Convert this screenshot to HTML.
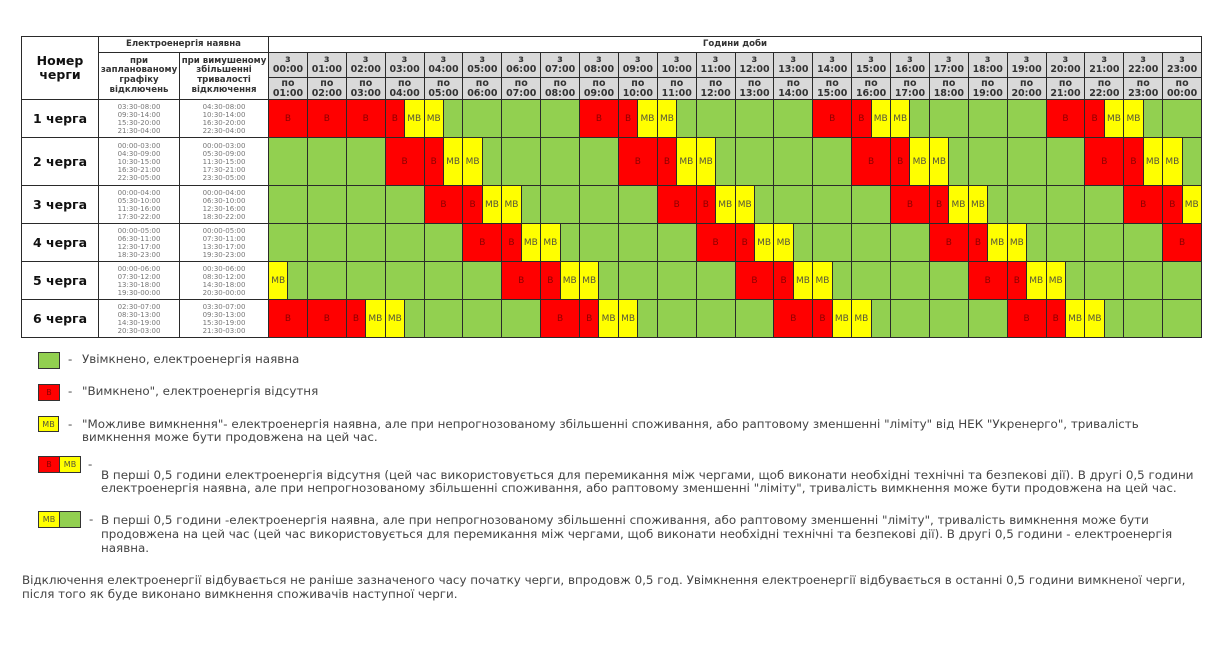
<!DOCTYPE html>
<html><head><meta charset="utf-8">
<style>
*{margin:0;padding:0;box-sizing:border-box}
body{width:1232px;height:668px;background:#fff;position:relative;overflow:hidden;font-family:"DejaVu Sans","Liberation Sans",sans-serif;color:#222}
#g{position:absolute;left:21px;top:36px;width:1181px;height:302px;background:#2a2a2a}
.c{position:absolute;background:#fff;display:flex;align-items:center;justify-content:center;text-align:center}
.r{position:absolute;left:247px;width:934px}
.s{--n:2;position:absolute;top:0;bottom:0;left:calc(var(--a)*19.4375px + 1px);width:calc(var(--n)*19.4375px - 1px);display:flex;align-items:center;justify-content:center;text-align:center;font-size:9px;white-space:nowrap}
.G{background:#92d050}
.B{background:#ff0000;color:#8b0000}
.M{background:#ffff00;color:#55553a}
.h{background:#d9d9d9;font-weight:bold;font-size:9.5px;line-height:10px;color:#333}
.lb{font-weight:bold;font-size:12.5px;color:#111}
.t{font-size:7px;line-height:8px;color:#777}
.hd{font-weight:bold;font-size:8.6px;line-height:9.6px;color:#333}
.lg{position:absolute;font-size:11.9px;line-height:13px;color:#444;white-space:nowrap}
.bx{position:absolute;border:1px solid #333;display:flex;align-items:center;justify-content:center;font-size:8px}
</style></head><body>
<div id="g">
<div class="c lb" style="left:1px;top:1px;width:76px;height:62px;line-height:14px;font-size:12.5px">Номер<br>черги</div>
<div class="c hd" style="left:78px;top:1px;width:169px;height:15px">Електроенергія наявна</div>
<div class="c hd" style="left:248px;top:1px;width:932px;height:15px">Години доби</div>
<div class="c hd" style="left:78px;top:17px;width:80px;height:46px">при<br>запланованому<br>графіку<br>відключень</div>
<div class="c hd" style="left:159px;top:17px;width:88px;height:46px">при вимушеному<br>збільшенні<br>тривалості<br>відключення</div>

<div class="r" style="top:17px;height:24px">
<div class="s h" style="--a:0">з<br>00:00</div><div class="s h" style="--a:2">з<br>01:00</div><div class="s h" style="--a:4">з<br>02:00</div><div class="s h" style="--a:6">з<br>03:00</div><div class="s h" style="--a:8">з<br>04:00</div><div class="s h" style="--a:10">з<br>05:00</div><div class="s h" style="--a:12">з<br>06:00</div><div class="s h" style="--a:14">з<br>07:00</div><div class="s h" style="--a:16">з<br>08:00</div><div class="s h" style="--a:18">з<br>09:00</div><div class="s h" style="--a:20">з<br>10:00</div><div class="s h" style="--a:22">з<br>11:00</div><div class="s h" style="--a:24">з<br>12:00</div><div class="s h" style="--a:26">з<br>13:00</div><div class="s h" style="--a:28">з<br>14:00</div><div class="s h" style="--a:30">з<br>15:00</div><div class="s h" style="--a:32">з<br>16:00</div><div class="s h" style="--a:34">з<br>17:00</div><div class="s h" style="--a:36">з<br>18:00</div><div class="s h" style="--a:38">з<br>19:00</div><div class="s h" style="--a:40">з<br>20:00</div><div class="s h" style="--a:42">з<br>21:00</div><div class="s h" style="--a:44">з<br>22:00</div><div class="s h" style="--a:46">з<br>23:00</div>
</div>
<div class="r" style="top:42px;height:21px">
<div class="s h" style="--a:0">по<br>01:00</div><div class="s h" style="--a:2">по<br>02:00</div><div class="s h" style="--a:4">по<br>03:00</div><div class="s h" style="--a:6">по<br>04:00</div><div class="s h" style="--a:8">по<br>05:00</div><div class="s h" style="--a:10">по<br>06:00</div><div class="s h" style="--a:12">по<br>07:00</div><div class="s h" style="--a:14">по<br>08:00</div><div class="s h" style="--a:16">по<br>09:00</div><div class="s h" style="--a:18">по<br>10:00</div><div class="s h" style="--a:20">по<br>11:00</div><div class="s h" style="--a:22">по<br>12:00</div><div class="s h" style="--a:24">по<br>13:00</div><div class="s h" style="--a:26">по<br>14:00</div><div class="s h" style="--a:28">по<br>15:00</div><div class="s h" style="--a:30">по<br>16:00</div><div class="s h" style="--a:32">по<br>17:00</div><div class="s h" style="--a:34">по<br>18:00</div><div class="s h" style="--a:36">по<br>19:00</div><div class="s h" style="--a:38">по<br>20:00</div><div class="s h" style="--a:40">по<br>21:00</div><div class="s h" style="--a:42">по<br>22:00</div><div class="s h" style="--a:44">по<br>23:00</div><div class="s h" style="--a:46">по<br>00:00</div>
</div>

<!-- Row 1 -->
<div class="c lb" style="left:1px;top:64px;width:76px;height:37px">1 черга</div>
<div class="c t" style="left:78px;top:64px;width:80px;height:37px">03:30-08:00<br>09:30-14:00<br>15:30-20:00<br>21:30-04:00</div>
<div class="c t" style="left:159px;top:64px;width:88px;height:37px">04:30-08:00<br>10:30-14:00<br>16:30-20:00<br>22:30-04:00</div>
<div class="r" style="top:64px;height:37px">
<div class="s B" style="--a:0">В</div><div class="s B" style="--a:2">В</div><div class="s B" style="--a:4">В</div><div class="s B" style="--a:6;--n:1">В</div><div class="s M" style="--a:7;--n:1">МВ</div><div class="s M" style="--a:8;--n:1">МВ</div><div class="s G" style="--a:9;--n:1"></div><div class="s G" style="--a:10"></div><div class="s G" style="--a:12"></div><div class="s G" style="--a:14"></div><div class="s B" style="--a:16">В</div><div class="s B" style="--a:18;--n:1">В</div><div class="s M" style="--a:19;--n:1">МВ</div><div class="s M" style="--a:20;--n:1">МВ</div><div class="s G" style="--a:21;--n:1"></div><div class="s G" style="--a:22"></div><div class="s G" style="--a:24"></div><div class="s G" style="--a:26"></div><div class="s B" style="--a:28">В</div><div class="s B" style="--a:30;--n:1">В</div><div class="s M" style="--a:31;--n:1">МВ</div><div class="s M" style="--a:32;--n:1">МВ</div><div class="s G" style="--a:33;--n:1"></div><div class="s G" style="--a:34"></div><div class="s G" style="--a:36"></div><div class="s G" style="--a:38"></div><div class="s B" style="--a:40">В</div><div class="s B" style="--a:42;--n:1">В</div><div class="s M" style="--a:43;--n:1">МВ</div><div class="s M" style="--a:44;--n:1">МВ</div><div class="s G" style="--a:45;--n:1"></div><div class="s G" style="--a:46"></div>
</div>

<!-- Row 2 -->
<div class="c lb" style="left:1px;top:102px;width:76px;height:47px">2 черга</div>
<div class="c t" style="left:78px;top:102px;width:80px;height:47px">00:00-03:00<br>04:30-09:00<br>10:30-15:00<br>16:30-21:00<br>22:30-05:00</div>
<div class="c t" style="left:159px;top:102px;width:88px;height:47px">00:00-03:00<br>05:30-09:00<br>11:30-15:00<br>17:30-21:00<br>23:30-05:00</div>
<div class="r" style="top:102px;height:47px">
<div class="s G" style="--a:0"></div><div class="s G" style="--a:2"></div><div class="s G" style="--a:4"></div><div class="s B" style="--a:6">В</div><div class="s B" style="--a:8;--n:1">В</div><div class="s M" style="--a:9;--n:1">МВ</div><div class="s M" style="--a:10;--n:1">МВ</div><div class="s G" style="--a:11;--n:1"></div><div class="s G" style="--a:12"></div><div class="s G" style="--a:14"></div><div class="s G" style="--a:16"></div><div class="s B" style="--a:18">В</div><div class="s B" style="--a:20;--n:1">В</div><div class="s M" style="--a:21;--n:1">МВ</div><div class="s M" style="--a:22;--n:1">МВ</div><div class="s G" style="--a:23;--n:1"></div><div class="s G" style="--a:24"></div><div class="s G" style="--a:26"></div><div class="s G" style="--a:28"></div><div class="s B" style="--a:30">В</div><div class="s B" style="--a:32;--n:1">В</div><div class="s M" style="--a:33;--n:1">МВ</div><div class="s M" style="--a:34;--n:1">МВ</div><div class="s G" style="--a:35;--n:1"></div><div class="s G" style="--a:36"></div><div class="s G" style="--a:38"></div><div class="s G" style="--a:40"></div><div class="s B" style="--a:42">В</div><div class="s B" style="--a:44;--n:1">В</div><div class="s M" style="--a:45;--n:1">МВ</div><div class="s M" style="--a:46;--n:1">МВ</div><div class="s G" style="--a:47;--n:1"></div>
</div>

<!-- Row 3 -->
<div class="c lb" style="left:1px;top:150px;width:76px;height:37px">3 черга</div>
<div class="c t" style="left:78px;top:150px;width:80px;height:37px">00:00-04:00<br>05:30-10:00<br>11:30-16:00<br>17:30-22:00</div>
<div class="c t" style="left:159px;top:150px;width:88px;height:37px">00:00-04:00<br>06:30-10:00<br>12:30-16:00<br>18:30-22:00</div>
<div class="r" style="top:150px;height:37px">
<div class="s G" style="--a:0"></div><div class="s G" style="--a:2"></div><div class="s G" style="--a:4"></div><div class="s G" style="--a:6"></div><div class="s B" style="--a:8">В</div><div class="s B" style="--a:10;--n:1">В</div><div class="s M" style="--a:11;--n:1">МВ</div><div class="s M" style="--a:12;--n:1">МВ</div><div class="s G" style="--a:13;--n:1"></div><div class="s G" style="--a:14"></div><div class="s G" style="--a:16"></div><div class="s G" style="--a:18"></div><div class="s B" style="--a:20">В</div><div class="s B" style="--a:22;--n:1">В</div><div class="s M" style="--a:23;--n:1">МВ</div><div class="s M" style="--a:24;--n:1">МВ</div><div class="s G" style="--a:25;--n:1"></div><div class="s G" style="--a:26"></div><div class="s G" style="--a:28"></div><div class="s G" style="--a:30"></div><div class="s B" style="--a:32">В</div><div class="s B" style="--a:34;--n:1">В</div><div class="s M" style="--a:35;--n:1">МВ</div><div class="s M" style="--a:36;--n:1">МВ</div><div class="s G" style="--a:37;--n:1"></div><div class="s G" style="--a:38"></div><div class="s G" style="--a:40"></div><div class="s G" style="--a:42"></div><div class="s B" style="--a:44">В</div><div class="s B" style="--a:46;--n:1">В</div><div class="s M" style="--a:47;--n:1">МВ</div>
</div>

<!-- Row 4 -->
<div class="c lb" style="left:1px;top:188px;width:76px;height:37px">4 черга</div>
<div class="c t" style="left:78px;top:188px;width:80px;height:37px">00:00-05:00<br>06:30-11:00<br>12:30-17:00<br>18:30-23:00</div>
<div class="c t" style="left:159px;top:188px;width:88px;height:37px">00:00-05:00<br>07:30-11:00<br>13:30-17:00<br>19:30-23:00</div>
<div class="r" style="top:188px;height:37px">
<div class="s G" style="--a:0"></div><div class="s G" style="--a:2"></div><div class="s G" style="--a:4"></div><div class="s G" style="--a:6"></div><div class="s G" style="--a:8"></div><div class="s B" style="--a:10">В</div><div class="s B" style="--a:12;--n:1">В</div><div class="s M" style="--a:13;--n:1">МВ</div><div class="s M" style="--a:14;--n:1">МВ</div><div class="s G" style="--a:15;--n:1"></div><div class="s G" style="--a:16"></div><div class="s G" style="--a:18"></div><div class="s G" style="--a:20"></div><div class="s B" style="--a:22">В</div><div class="s B" style="--a:24;--n:1">В</div><div class="s M" style="--a:25;--n:1">МВ</div><div class="s M" style="--a:26;--n:1">МВ</div><div class="s G" style="--a:27;--n:1"></div><div class="s G" style="--a:28"></div><div class="s G" style="--a:30"></div><div class="s G" style="--a:32"></div><div class="s B" style="--a:34">В</div><div class="s B" style="--a:36;--n:1">В</div><div class="s M" style="--a:37;--n:1">МВ</div><div class="s M" style="--a:38;--n:1">МВ</div><div class="s G" style="--a:39;--n:1"></div><div class="s G" style="--a:40"></div><div class="s G" style="--a:42"></div><div class="s G" style="--a:44"></div><div class="s B" style="--a:46">В</div>
</div>

<!-- Row 5 -->
<div class="c lb" style="left:1px;top:226px;width:76px;height:37px">5 черга</div>
<div class="c t" style="left:78px;top:226px;width:80px;height:37px">00:00-06:00<br>07:30-12:00<br>13:30-18:00<br>19:30-00:00</div>
<div class="c t" style="left:159px;top:226px;width:88px;height:37px">00:30-06:00<br>08:30-12:00<br>14:30-18:00<br>20:30-00:00</div>
<div class="r" style="top:226px;height:37px">
<div class="s M" style="--a:0;--n:1">МВ</div><div class="s G" style="--a:1;--n:1"></div><div class="s G" style="--a:2"></div><div class="s G" style="--a:4"></div><div class="s G" style="--a:6"></div><div class="s G" style="--a:8"></div><div class="s G" style="--a:10"></div><div class="s B" style="--a:12">В</div><div class="s B" style="--a:14;--n:1">В</div><div class="s M" style="--a:15;--n:1">МВ</div><div class="s M" style="--a:16;--n:1">МВ</div><div class="s G" style="--a:17;--n:1"></div><div class="s G" style="--a:18"></div><div class="s G" style="--a:20"></div><div class="s G" style="--a:22"></div><div class="s B" style="--a:24">В</div><div class="s B" style="--a:26;--n:1">В</div><div class="s M" style="--a:27;--n:1">МВ</div><div class="s M" style="--a:28;--n:1">МВ</div><div class="s G" style="--a:29;--n:1"></div><div class="s G" style="--a:30"></div><div class="s G" style="--a:32"></div><div class="s G" style="--a:34"></div><div class="s B" style="--a:36">В</div><div class="s B" style="--a:38;--n:1">В</div><div class="s M" style="--a:39;--n:1">МВ</div><div class="s M" style="--a:40;--n:1">МВ</div><div class="s G" style="--a:41;--n:1"></div><div class="s G" style="--a:42"></div><div class="s G" style="--a:44"></div><div class="s G" style="--a:46"></div>
</div>

<!-- Row 6 -->
<div class="c lb" style="left:1px;top:264px;width:76px;height:37px">6 черга</div>
<div class="c t" style="left:78px;top:264px;width:80px;height:37px">02:30-07:00<br>08:30-13:00<br>14:30-19:00<br>20:30-03:00</div>
<div class="c t" style="left:159px;top:264px;width:88px;height:37px">03:30-07:00<br>09:30-13:00<br>15:30-19:00<br>21:30-03:00</div>
<div class="r" style="top:264px;height:37px">
<div class="s B" style="--a:0">В</div><div class="s B" style="--a:2">В</div><div class="s B" style="--a:4;--n:1">В</div><div class="s M" style="--a:5;--n:1">МВ</div><div class="s M" style="--a:6;--n:1">МВ</div><div class="s G" style="--a:7;--n:1"></div><div class="s G" style="--a:8"></div><div class="s G" style="--a:10"></div><div class="s G" style="--a:12"></div><div class="s B" style="--a:14">В</div><div class="s B" style="--a:16;--n:1">В</div><div class="s M" style="--a:17;--n:1">МВ</div><div class="s M" style="--a:18;--n:1">МВ</div><div class="s G" style="--a:19;--n:1"></div><div class="s G" style="--a:20"></div><div class="s G" style="--a:22"></div><div class="s G" style="--a:24"></div><div class="s B" style="--a:26">В</div><div class="s B" style="--a:28;--n:1">В</div><div class="s M" style="--a:29;--n:1">МВ</div><div class="s M" style="--a:30;--n:1">МВ</div><div class="s G" style="--a:31;--n:1"></div><div class="s G" style="--a:32"></div><div class="s G" style="--a:34"></div><div class="s G" style="--a:36"></div><div class="s B" style="--a:38">В</div><div class="s B" style="--a:40;--n:1">В</div><div class="s M" style="--a:41;--n:1">МВ</div><div class="s M" style="--a:42;--n:1">МВ</div><div class="s G" style="--a:43;--n:1"></div><div class="s G" style="--a:44"></div><div class="s G" style="--a:46"></div>
</div>
</div>

<!-- Legend -->
<div class="bx G" style="left:38px;top:352px;width:22px;height:17px"></div>
<div class="lg" style="left:68px;top:353px">-</div>
<div class="lg" style="left:82px;top:353px">Увімкнено, електроенергія наявна</div>

<div class="bx B" style="left:38px;top:384px;width:22px;height:17px">В</div>
<div class="lg" style="left:68px;top:385px">-</div>
<div class="lg" style="left:82px;top:385px">"Вимкнено", електроенергія відсутня</div>

<div class="bx M" style="left:38px;top:416px;width:21px;height:16px">МВ</div>
<div class="lg" style="left:68px;top:418px">-</div>
<div class="lg" style="left:82px;top:418px">"Можливе вимкнення"- електроенергія наявна, але при непрогнозованому збільшенні споживання, або раптовому зменшенні "ліміту" від НЕК "Укренерго", тривалість<br>вимкнення може бути продовжена на цей час.</div>

<div class="bx B" style="left:38px;top:456px;width:22px;height:17px">В</div>
<div class="bx M" style="left:59px;top:456px;width:22px;height:17px">МВ</div>
<div class="lg" style="left:88px;top:458px">-</div>
<div class="lg" style="left:101px;top:469px">В перші 0,5 години електроенергія відсутня (цей час використовується для перемикання між чергами, щоб виконати необхідні технічні та безпекові дії). В другі 0,5 години<br>електроенергія наявна, але при непрогнозованому збільшенні споживання, або раптовому зменшенні "ліміту", тривалість вимкнення може бути продовжена на цей час.</div>

<div class="bx M" style="left:38px;top:511px;width:22px;height:17px">МВ</div>
<div class="bx G" style="left:59px;top:511px;width:22px;height:17px"></div>
<div class="lg" style="left:89px;top:513px">-</div>
<div class="lg" style="left:101px;top:513px;line-height:14px">В перші 0,5 години -електроенергія наявна, але при непрогнозованому збільшенні споживання, або раптовому зменшенні "ліміту", тривалість вимкнення може бути<br>продовжена на цей час (цей час використовується для перемикання між чергами, щоб виконати необхідні технічні та безпекові дії). В другі 0,5 години - електроенергія<br>наявна.</div>

<div class="lg" style="left:22px;top:573px;line-height:14px">Відключення електроенергії відбувається не раніше зазначеного часу початку черги, впродовж 0,5 год. Увімкнення електроенергії відбувається в останні 0,5 години вимкненої черги,<br>після того як буде виконано вимкнення споживачів наступної черги.</div>
</body></html>
